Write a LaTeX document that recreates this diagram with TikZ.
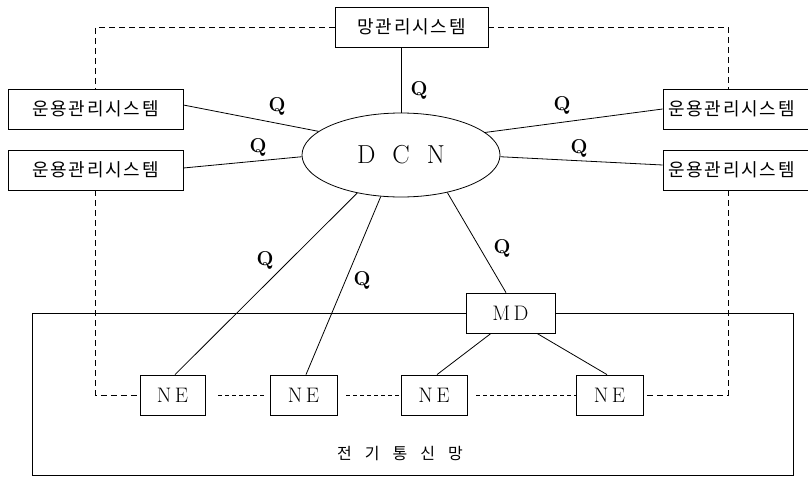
\documentclass[tikz,border=0pt]{standalone}
\usepackage{fontspec}
\newfontfamily\kr[LetterSpace=10]{Noto Sans CJK KR}
\newfontfamily\krb{Noto Sans CJK KR}
\usetikzlibrary{shapes.geometric}
\begin{document}
\begin{tikzpicture}[x=1pt,y=-1pt,line width=0.8pt,
  sysbox/.style={draw,line width=0.8pt,minimum height=40pt,inner sep=0pt,font=\kr\fontsize{18}{20}\selectfont},
  nebox/.style={draw,line width=0.8pt,minimum height=40pt,inner sep=0pt,font=\fontsize{21}{24}\selectfont},
  qlab/.style={font=\bfseries\fontsize{20}{23}\selectfont,inner sep=0pt},
  mgmt/.style={dash pattern=on 6pt off 4pt,line width=0.8pt},
  nelink/.style={dash pattern=on 4pt off 3pt,line width=0.7pt}]
\useasboundingbox (0,0) rectangle (808,477);
\begin{scope}
\clip (0,0) rectangle (808,477);
% boxes
\node[sysbox,minimum width=153pt] (top) at (411.5,27) {망관리시스템};
\node[sysbox,minimum width=175pt] (L1) at (95.5,109) {운용관리시스템};
\node[sysbox,minimum width=175pt] (L2) at (95.5,170) {운용관리시스템};
\node[sysbox,minimum width=164pt,text width=154pt,align=left] (R1) at (745,109) {운용관리시스템};
\node[sysbox,minimum width=164pt,text width=154pt,align=left] (R2) at (745,170) {운용관리시스템};
\node[draw,ellipse,line width=0.8pt,minimum width=198pt,minimum height=84pt,inner sep=0pt,font=\fontsize{26}{30}\selectfont] (dcn) at (401,155) {D\hspace{17pt}C\hspace{17pt}N};
\node[nebox,minimum width=89pt] (md) at (510.5,313) {M\,D};
\node[nebox,minimum width=65pt] (ne1) at (172.5,395) {N\,E};
\node[nebox,minimum width=67pt] (ne2) at (303.5,395) {N\,E};
\node[nebox,minimum width=66pt] (ne3) at (434,395) {N\,E};
\node[nebox,minimum width=67pt] (ne4) at (609.5,395) {N\,E};
\node[font=\krb\fontsize{16}{18}\selectfont,inner sep=0pt] (net) at (400,453) {전\hspace{13pt}기\hspace{13pt}통\hspace{13pt}신\hspace{13pt}망};
% Q labels
\node[qlab] (q1) at (419,90) {Q};
\node[qlab] (q2) at (277,106) {Q};
\node[qlab] (q3) at (258,147) {Q};
\node[qlab] (q4) at (562,105) {Q};
\node[qlab] (q5) at (579,148) {Q};
\node[qlab] (q6) at (265,260) {Q};
\node[qlab] (q7) at (362,280) {Q};
\node[qlab] (q8) at (502,248) {Q};
% coordinates
\coordinate (rt) at (728,89);
\coordinate (rb) at (728,190);
\coordinate (nw) at (32,313);
\coordinate (sw) at (32,475);
\coordinate (se) at (793,475);
\coordinate (ne) at (793,313);
% Q links
\draw (dcn.north |- top.south) -- (dcn.north);
\draw ([yshift=4pt]L1.east) -- (dcn.164);
\draw ([yshift=2pt]L2.east) -- (dcn.181);
\draw (R1.west) -- (dcn.15);
\draw ([yshift=5pt]R2.west) -- (dcn.-1);
\draw (dcn.221) -- ([xshift=2.5pt]ne1.north);
\draw (dcn.244) -- ([xshift=2.5pt]ne2.north);
\draw (dcn.-39) -- ([xshift=-4.5pt]md.north);
\draw ([xshift=-19.5pt]md.south) -- ([xshift=3pt]ne3.north);
\draw ([xshift=26.5pt]md.south) -- ([xshift=-2.5pt]ne4.north);
% network
\draw (md.west) -- (nw) -- (sw) -- (se) -- (ne) -- (md.east);
% management dashed
\draw[mgmt] (top.west) -| (L1.north);
\draw[mgmt] (top.east) -| (rt);
\draw[mgmt] (L2.south) |- (ne1.west);
\draw[mgmt] (rb) |- (ne4.east);
\draw[nelink] ([xshift=13pt]ne1.east) -- ([xshift=-4pt]ne2.west);
\draw[nelink] ([xshift=9pt]ne2.east) -- (ne3.west);
\draw[nelink] ([xshift=9pt]ne3.east) -- (ne4.west);
\end{scope}
\end{tikzpicture}
\end{document}
